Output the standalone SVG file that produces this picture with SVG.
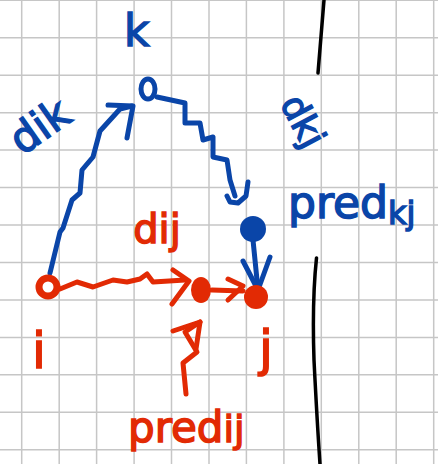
<svg xmlns="http://www.w3.org/2000/svg" width="438" height="464" viewBox="0 0 438 464">
<style>
.grid{stroke:#c6c6c6;stroke-width:1.5;fill:none}
.b{stroke:#0a45a8;fill:none;stroke-width:5;stroke-linecap:round;stroke-linejoin:round}
.r{stroke:#e22a04;fill:none;stroke-width:5;stroke-linecap:round;stroke-linejoin:round}
.bt{fill:#0a45a8;stroke:#0a45a8;stroke-width:1.5;font-family:"DejaVu Sans",sans-serif}
.rt{fill:#e22a04;stroke:#e22a04;stroke-width:1.5;font-family:"DejaVu Sans",sans-serif}
.wall{stroke:#000;stroke-width:3.5;fill:none;stroke-linecap:round}
</style>
<rect width="438" height="464" fill="#fff"/>
<path class="grid" d="M21.7 0V464M59.2 0V464M96.6 0V464M134.1 0V464M171.5 0V464M209 0V464M246.4 0V464M283.9 0V464M321.3 0V464M358.8 0V464M396.2 0V464M433.7 0V464M0 0.3H438M0 37.8H438M0 75.2H438M0 112.7H438M0 150.1H438M0 187.6H438M0 225H438M0 262.5H438M0 299.9H438M0 337.4H438M0 374.8H438M0 412.3H438M0 449.7H438"/>
<g id="wall">
<path class="wall" d="M324 0L318 73"/>
<path class="wall" d="M316.5 258Q312 300 314 360Q317 420 320 464"/>
</g>
<g id="connectors">
<path class="b" d="M50 273L60 232L63 228L72 200L80 193L82 170L93 157L100 131L110 120L120 109L132 106"/>
<path class="b" d="M108 105L133 106L127 138"/>
<path class="b" d="M157 97L185 103L185 123L200 123L203 140L213 137L213 157L227 160L230 180L235 196"/>
<path class="b" d="M248 182L246 196L238 203L230 202L227 196"/>
<path class="b" d="M253 240L258 290"/>
<path class="b" d="M243 261L258 290L270 257"/>
<path class="r" d="M60 289L77 282L93 287L113 280L127 282L140 279L147 274L153 282L185 280"/>
<path class="r" d="M173 270L189 281L172 304"/>
<path class="r" d="M212 290L243 291"/>
<path class="r" d="M228 279L243 286L228 300"/>
<path class="r" d="M186 394L183 363L197 352L185 332L200 322"/>
<path class="r" d="M173 331L200 322L196 349"/>
</g>
<g id="node-i"><circle cx="48" cy="287" r="9" fill="none" stroke="#e22a04" stroke-width="7"/></g>
<g id="node-mid"><ellipse cx="201" cy="290" rx="10" ry="13" fill="#e22a04"/></g>
<g id="node-j"><ellipse cx="256" cy="297" rx="12" ry="12" fill="#e22a04"/></g>
<g id="node-pred-kj"><circle cx="253" cy="229" r="13" fill="#0a45a8"/></g>
<g id="node-k"><ellipse cx="148" cy="89" rx="7" ry="10" fill="none" stroke="#0a45a8" stroke-width="5"/></g>
<g id="labels">
<text class="bt" x="124" y="46" font-size="44">k</text>
<text class="bt" x="48" y="138" font-size="42" text-anchor="middle" transform="rotate(-35 48 138)">dik</text>
<text class="bt" x="292" y="127" font-size="36" text-anchor="middle" transform="rotate(62 292 127)">dkj</text>
<text class="bt" x="288" y="218" font-size="44">pred<tspan font-size="32" dy="6">kj</tspan></text>
<text class="rt" x="157" y="243" font-size="40" text-anchor="middle">dij</text>
<text class="rt" x="39" y="368" font-size="50" text-anchor="middle">i</text>
<text class="rt" x="266" y="366" font-size="50" text-anchor="middle">j</text>
<text class="rt" x="128" y="442" font-size="42">pred<tspan font-size="38">ij</tspan></text>
</g>
</svg>
